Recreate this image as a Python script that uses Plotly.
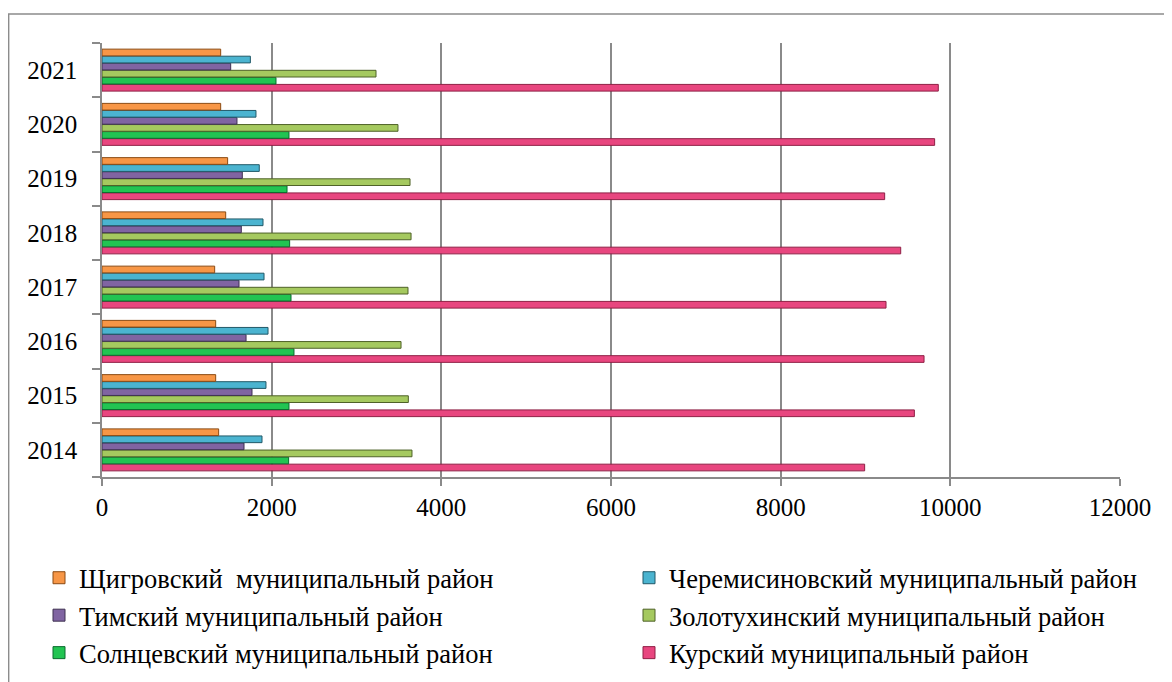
import plotly.graph_objects as go

years = ["2014", "2015", "2016", "2017", "2018", "2019", "2020", "2021"]

# values per district, years 2014..2021
kursk = [8990, 9576, 9690, 9242, 9415, 9226, 9815, 9858]
solntsevo = [2200, 2204, 2263, 2228, 2212, 2181, 2204, 2051]
zolotukhino = [3654, 3611, 3525, 3607, 3643, 3631, 3489, 3230]
tim = [1674, 1768, 1698, 1615, 1642, 1654, 1591, 1517]
cheremisinovo = [1886, 1933, 1957, 1910, 1898, 1854, 1815, 1749]
shchigry = [1375, 1340, 1340, 1328, 1458, 1481, 1399, 1399]

FONT = "Liberation Serif"

# bottom bar in each group first (plotly draws first trace at bottom)
series = [
    ("Курский муниципальный район", kursk, "#E8467F", "#8F1F45", "legend2"),
    ("Солнцевский муниципальный район", solntsevo, "#22C452", "#0B6B2E", "legend"),
    ("Золотухинский муниципальный район", zolotukhino, "#A5C95F", "#4F6228", "legend2"),
    ("Тимский муниципальный район", tim, "#8064A2", "#3F3151", "legend"),
    ("Черемисиновский муниципальный район", cheremisinovo, "#4BB4D0", "#215968", "legend2"),
    ("Щигровский \u00a0муниципальный район", shchigry, "#F79646", "#8B4A12", "legend"),
]

fig = go.Figure()
for i, (name, vals, col, edge, leg) in enumerate(series):
    fig.add_trace(go.Bar(
        y=years, x=vals, name=name, orientation="h",
        marker=dict(color=col, line=dict(color=edge, width=1)),
        legend=leg, legendgroup=str(i),
    ))

# outer chart frame (left and top edges)
fig.add_shape(type="path", xref="paper", yref="paper",
              path="M -0.0917,-1 L -0.0917,1.0668 L 1.2,1.0668",
              line=dict(color="#8c8c8c", width=1.5))

W, H = 1164, 674  # page body adds 8px margin

leg_common = dict(
    xref="container", yref="container", xanchor="left", yanchor="top",
    orientation="v", traceorder="reversed", itemwidth=30,
    font=dict(family=FONT, size=26.5, color="#000000"),
    bgcolor="rgba(0,0,0,0)", tracegroupgap=0,
)

fig.update_layout(
    width=W, height=H,
    paper_bgcolor="white", plot_bgcolor="white",
    barmode="group", bargap=0.22, bargroupgap=0.05,
    margin=dict(l=94, r=52, t=35, b=205, autoexpand=False),
    font=dict(family=FONT, size=25, color="#000000"),
    legend=dict(x=31 / W, y=1 - 546 / H, **leg_common),
    legend2=dict(x=621 / W, y=1 - 546 / H, **leg_common),
    xaxis=dict(
        range=[0, 12000], dtick=2000, tickformat="d", showgrid=True,
        gridcolor="#8a8a8a", gridwidth=1.5, zeroline=False,
        showline=True, linecolor="#8a8a8a", linewidth=1.5,
        ticks="outside", ticklen=7, tickcolor="#8a8a8a", tickwidth=1.5,
        tickfont=dict(family=FONT, size=25, color="#000000"),
    ),
    yaxis=dict(
        type="category", categoryorder="array", categoryarray=years,
        showline=True, linecolor="#8a8a8a", linewidth=1.5,
        ticks="outside", ticklen=8, tickcolor="#8a8a8a", tickwidth=1.5,
        tickson="boundaries", showgrid=False, ticklabelstandoff=18,
        tickfont=dict(family=FONT, size=25, color="#000000"),
    ),
)

fig.write_html("out.html")
